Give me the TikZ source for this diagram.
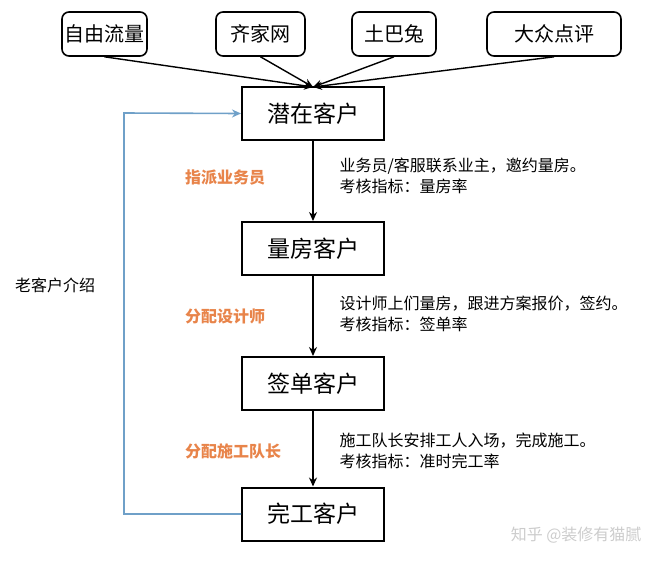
\documentclass[tikz,border=0pt]{standalone}
\usepackage{fontspec}
\newfontfamily\cjk{Noto Sans CJK SC}
\usetikzlibrary{arrows.meta}
\definecolor{og}{HTML}{E8844A}
\definecolor{bl}{HTML}{6FA0C8}
\begin{document}
\begin{tikzpicture}[x=1pt,y=-1pt,font=\cjk,
 top/.style={draw,line width=1.6pt,rounded corners=7pt,minimum height=44pt,inner sep=0pt,font=\cjk\fontsize{20}{24}\selectfont},
 box/.style={draw,line width=2pt,minimum width=142pt,minimum height=53pt,font=\cjk\fontsize{23}{27}\selectfont},
 arr/.style={line width=1.4pt,-{Stealth[length=9pt,width=8pt]}},
 org/.style={text=og,font=\cjk\bfseries\fontsize{16}{19}\selectfont},
 desc/.style={align=left,anchor=west,font=\cjk\fontsize{16}{21}\selectfont}]
\useasboundingbox (0,0) rectangle (661,563);
\node[top,minimum width=85pt] (a) at (104.5,34) {自由流量};
\node[top,minimum width=89pt] (b) at (260.5,34) {齐家网};
\node[top,minimum width=84pt] (c) at (394,34) {土巴兔};
\node[top,minimum width=134pt] (d) at (554,34) {大众点评};
\node[box] (p1) at (313,113.5) {潜在客户};
\node[box] (p2) at (313,248.5) {量房客户};
\node[box] (p3) at (313,383.5) {签单客户};
\node[box] (p4) at (313,514) {完工客户};
\coordinate (t) at (313,87);
\foreach \n in {a,b,c,d} \draw[arr] (\n.south) -- (t);
\draw[arr] (p1) -- (p2);
\draw[arr] (p2) -- (p3);
\draw[arr] (p3) -- (p4);
\draw[arr,draw=bl,line width=1.6pt] (p4.west) -| (124,113) -- (p1.west);
\node (lk) at (55,285) {\fontsize{16}{19}\selectfont 老客户介绍};
\node[org] (o1) at (225,178) {指派业务员};
\node[org] (o2) at (225,316) {分配设计师};
\node[org] (o3) at (233,451) {分配施工队长};
\node[desc] (d1) at (336,176) {业务员/客服联系业主，邀约量房。\\考核指标：量房率};
\node[desc] (d2) at (336,314) {设计师上们量房，跟进方案报价，签约。\\考核指标：签单率};
\node[desc] (d3) at (336,451) {施工队长安排工人入场，完成施工。\\考核指标：准时完工率};
\node[text=gray!40,anchor=east,font=\cjk\fontsize{16}{19}\selectfont] (w) at (645,535) {知乎 @装修有猫腻};
\end{tikzpicture}
\end{document}
